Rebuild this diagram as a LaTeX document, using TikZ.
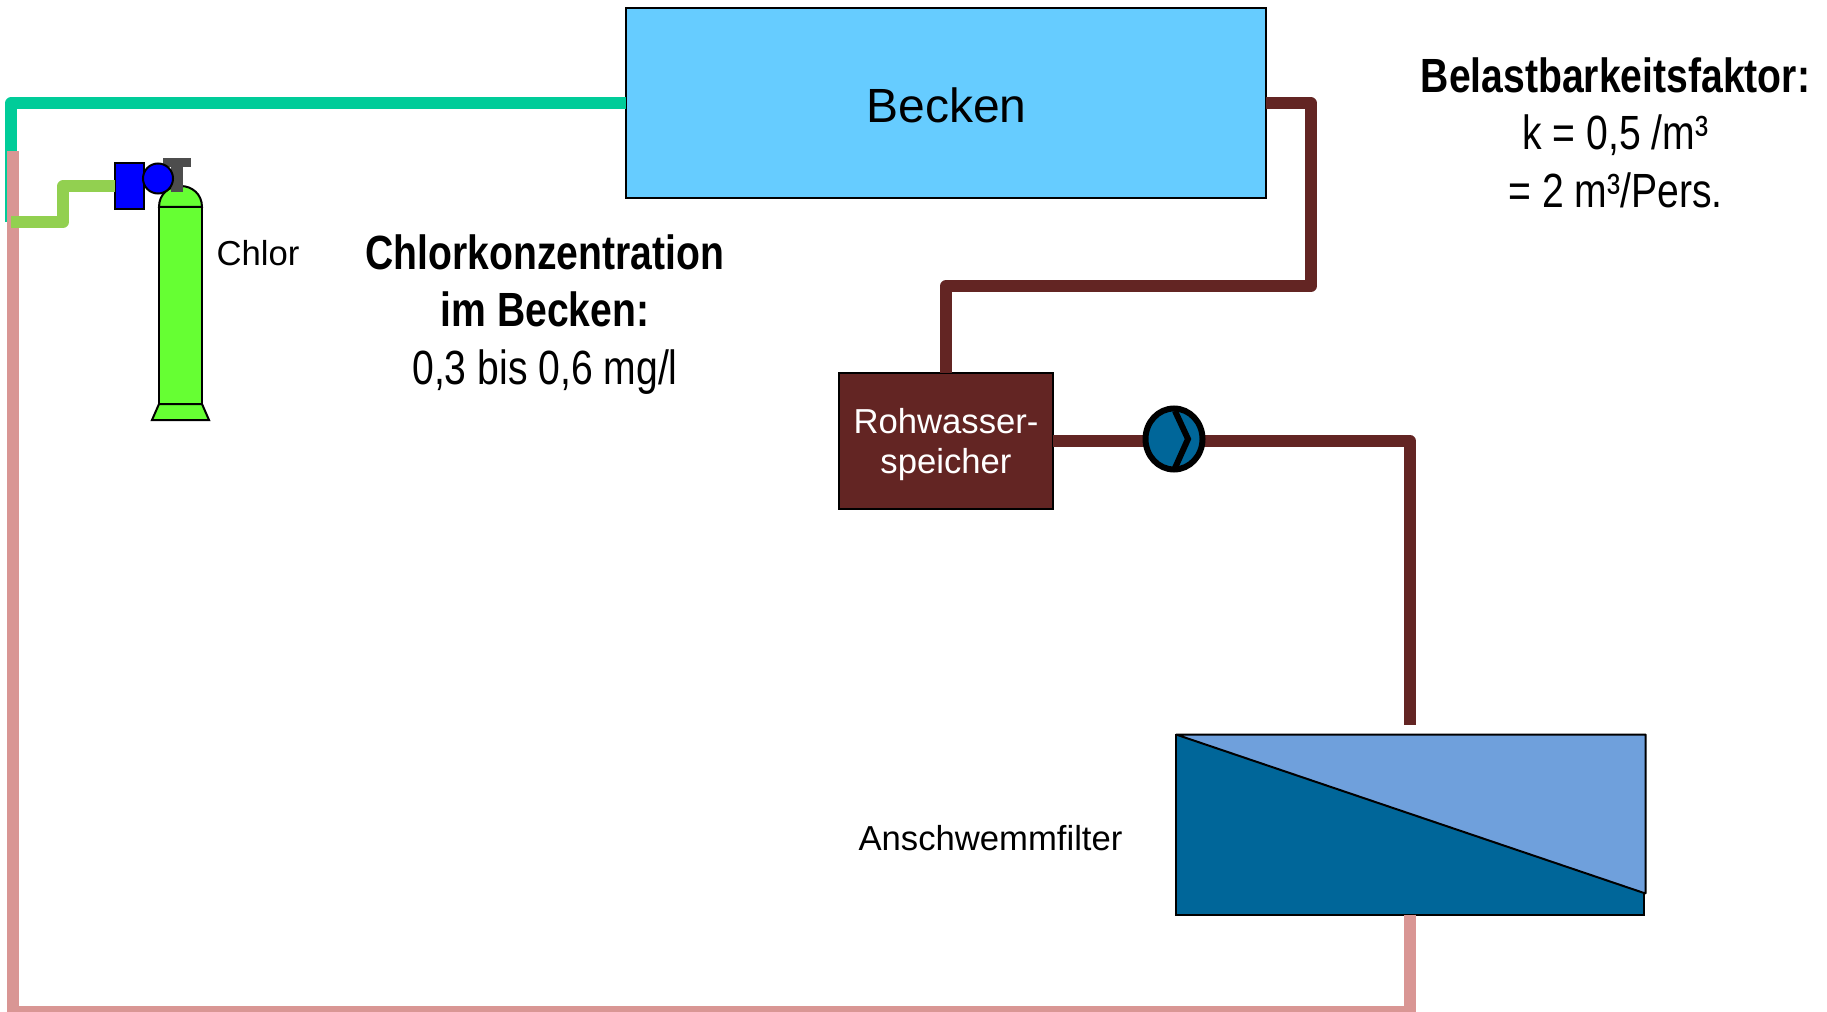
\documentclass[tikz,border=0pt]{standalone}
\usetikzlibrary{shapes.geometric}
\usepackage{fontspec}
\setmainfont{Liberation Sans}
\newfontfamily\condfont[FakeStretch=0.815]{Liberation Sans}
\tikzset{
  x=0.75pt, y=-0.75pt,
  outl/.style={draw=black, line width=1.5pt},
  boxn/.style={outl, rectangle, inner sep=0pt, outer sep=0pt, align=center},
  pipe/.style={line width=9pt, line join=round},
  lbl/.style={inner sep=0pt, align=center, text=black},
  cond/.style={lbl, font=\condfont\fontsize{36}{43}\selectfont},
  small/.style={lbl, font=\fontsize{26}{30}\selectfont}
}
\definecolor{becken}{HTML}{66CCFF}
\definecolor{brownp}{HTML}{632523}
\definecolor{greenp}{HTML}{00CC99}
\definecolor{pinkp}{HTML}{D99694}
\definecolor{lime}{HTML}{92D050}
\definecolor{gas}{HTML}{66FF33}
\definecolor{dblue}{HTML}{006699}
\definecolor{lblue}{HTML}{6FA0DC}
\definecolor{valve}{HTML}{4D4D4D}
\definecolor{regblue}{HTML}{0000FF}
\begin{document}
\begin{tikzpicture}
\useasboundingbox (0,0) rectangle (1827,1012);
\clip (0,0) rectangle (1827,1012);
% nodes
\node[boxn, fill=becken, minimum width=640*0.75pt, minimum height=190*0.75pt] (becken) at (946,103.5) {};
\node[lbl, font=\fontsize{36}{43}\selectfont] (beckentext) at (946.5,105) {Becken};
\node[boxn, fill=brownp, minimum width=214*0.75pt, minimum height=136*0.75pt] (speicher) at (946,441) {};
\node[lbl, text=white, font=\fontsize{26}{30}\selectfont] (speichertext) at (946,445) {Rohwasser-\\speicher};
\node[boxn, fill=dblue, minimum width=468*0.75pt, minimum height=180*0.75pt] (filter) at (1409.5,824.5) {};
\coordinate (ftop) at (1410,725);
\coordinate (ftl) at (1176,734.5);
\coordinate (ftr) at (1645.5,734.5);
\coordinate (fbr) at (1645.5,893.5);
\filldraw[fill=lblue, line width=1.5pt, line join=bevel] (ftl) -- (ftr) -- (fbr) -- cycle;
% pipes
\coordinate (gc) at (11,103.5);
\coordinate (gend) at (11,222);
\draw[pipe, greenp] (becken.west) -- (gc) -- (gend);
\coordinate (pbot) at (1409.5,1012);
\coordinate (pleft) at (13,1012);
\coordinate (ptop) at (13,151);
\draw[line width=9pt, pinkp, line join=miter] (filter.south) -- (pbot) -- (pleft) -- (ptop);
% brown
\coordinate (b1) at (1311,103.5);
\coordinate (b2) at (1311,286);
\coordinate (b3) at (946,286);
\draw[pipe, brownp] (becken.east) -- (b1) -- (b2) -- (b3) -- (speicher.north);
\coordinate (b4) at (1410,441);
\draw[pipe, brownp] (speicher.east) -- (b4) -- (ftop);
% pump
\node[ellipse, draw=black, fill=dblue, line width=4.5pt, inner sep=0pt, minimum width=57*0.75pt, minimum height=61*0.75pt, outer sep=0pt] (pump) at (1174,439) {};
\draw[line width=4.5pt, miter limit=10] (1175,411) -- (1188,439) -- (1175,468);
% chlorine bottle
\filldraw[fill=gas, line width=1.5pt] (159,207) .. controls (159,194) and (169,186) .. (180.5,186) .. controls (192,186) and (202,194) .. (202,207) -- cycle;
\filldraw[fill=gas, line width=1.5pt] (159,207) rectangle (202,404);
\filldraw[fill=gas, line width=1.5pt] (159,404) -- (202,404) -- (209,420) -- (152,420) -- cycle;
\fill[valve] (163,158) rectangle (191,167);
\fill[valve] (171,158) rectangle (183,192);
% light green feed
\node[boxn, fill=regblue, minimum width=29*0.75pt, minimum height=46*0.75pt] (reg) at (129.5,186.5) {};
\node[circle, draw=black, fill=regblue, line width=1.5pt, inner sep=0pt, outer sep=0pt, minimum size=30*0.75pt] (regc) at (158,178.5) {};
\coordinate (l1) at (63,186.5);
\coordinate (l2) at (63,222);
\coordinate (l3) at (11,222);
\draw[pipe, lime] (reg.west) -- (l1) -- (l2) -- (l3);
% labels
\node[small] (chlor) at (258,253) {Chlor};
\node[small] (anschw) at (990.5,838) {Anschwemmfilter};
\node[cond, anchor=north] (konz) at (545,234.5) {\textbf{Chlorkonzentration}\\\textbf{im Becken:}\\0,3 bis 0,6 mg/l};
\node[cond, anchor=north] (belast) at (1615.5,57.5) {\textbf{Belastbarkeitsfaktor:}\\k = 0,5 /m³\\= 2 m³/Pers.};
\end{tikzpicture}
\end{document}
